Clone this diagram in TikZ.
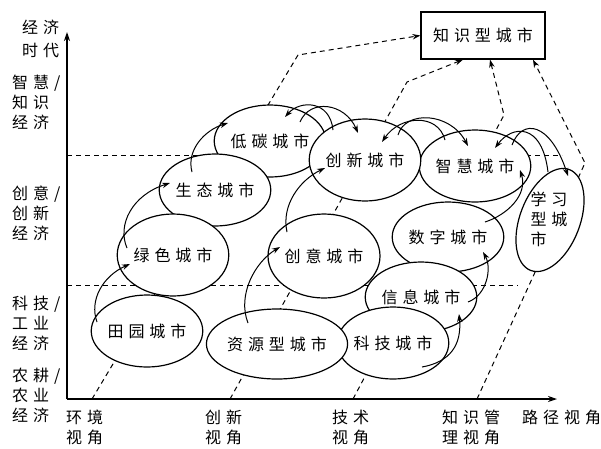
\documentclass[tikz,border=0pt]{standalone}
\usepackage{fontspec}
\newfontfamily\cjk[LetterSpace=31]{Noto Sans CJK SC}
\usetikzlibrary{arrows.meta,shapes.geometric,calc}
\begin{document}
\begin{tikzpicture}[x=1pt,y=-1pt,
  lbl/.style={font=\cjk\fontsize{16}{20}\selectfont, inner sep=0pt, align=left, anchor=north west},
  city/.style={ellipse, draw, fill=white, line width=1.2pt, inner sep=0pt, font=\cjk\fontsize{16}{20}\selectfont},
  evo/.style={line width=1pt, -{Stealth[length=8pt,width=5.5pt]}},
  dpath/.style={line width=1pt, dash pattern=on 5pt off 4pt},
  darrow/.style={dpath, -{Stealth[length=8pt,width=5.5pt]}},
  axis/.style={line width=1.3pt, -{Stealth[length=9pt,width=6pt]}}]

\fill[white] (0,0) rectangle (601,448);
\useasboundingbox (0,0) rectangle (601,448);

% axes
\coordinate (O) at (67,399);
\coordinate (ytop) at (67,32);
\coordinate (xend) at (557,399);
\draw[axis] (O) -- (ytop);
\draw[axis] (O) -- (xend);

% stage borders
\coordinate (u1) at (67,155); \coordinate (u2) at (562,155);
\coordinate (l1) at (67,285); \coordinate (l2) at (518,285);
\draw[dpath] (u1) -- (u2);
\draw[dpath] (l1) -- (l2);

% target box
\node[draw, line width=1.2pt, minimum width=124pt, minimum height=47pt, inner sep=0pt,
      font=\cjk\fontsize{16}{20}\selectfont] (box) at (483,35.5) {知识型城市};

% perspective paths
\coordinate (p1a) at (92,399); \coordinate (p1b) at (298,55);
\coordinate (p2a) at (230,399); \coordinate (p2b) at (407,82);
\coordinate (p3a) at (353,399); \coordinate (p3b) at (504,115);
\coordinate (p4a) at (477,399); \coordinate (p4b) at (585,163);
\draw[darrow] (p1a) -- (p1b) -- (box.west);
\draw[darrow] (p2a) -- (p2b) -- ($(box.south)+(-20,0)$);
\draw[darrow] (p3a) -- (p3b) -- ($(box.south)+(7,0)$);
\draw[darrow] (p4a) -- (p4b) -- ($(box.south)+(50,0)$);

% cities
\node[city, minimum width=110pt, minimum height=72pt] (ditan) at (270,141) {低碳城市};
\node[city, minimum width=110pt, minimum height=72pt] (zhihui) at (475,166) {智慧城市};
\node[city, minimum width=106pt, minimum height=82pt] (chuangxin) at (365,160) {创新城市};
\node[city, minimum width=110pt, minimum height=72pt] (shengtai) at (215,190) {生态城市};
\node[city, minimum width=110pt, minimum height=70pt] (shuzi) at (448,237) {数字城市};
\node[city, minimum width=112pt, minimum height=84pt] (chuangyi) at (324,256) {创意城市};
\node[city, minimum width=110pt, minimum height=82pt] (lvse) at (173,255) {绿色城市};
\node[city, minimum width=108pt, minimum height=70pt] (xinxi) at (421,297) {信息城市};
\node[city, minimum width=60pt, minimum height=108pt, rotate=-21] (xuexi) at (550,220) {};
\node[lbl, anchor=center] (xuexitext) at (549,219) {学习\\型城\\市};
\node[city, minimum width=110pt, minimum height=72pt] (tianyuan) at (147,331) {田园城市};
\node[city, minimum width=110pt, minimum height=72pt] (keji) at (393,343) {科技城市};
\node[city, minimum width=126pt, minimum height=70pt] (ziyuan) at (277,344) {资源型城市};

% axis labels
\node[lbl, font=\cjk\fontsize{16}{23}\selectfont] (era) at (22,20) {经济\\时代};
\node[lbl] (eco4) at (12,75) {智慧/\\知识\\经济};
\node[lbl] (eco3) at (12,186) {创意/\\创新\\经济};
\node[lbl] (eco2) at (12,296) {科技/\\工业\\经济};
\node[lbl] (eco1) at (12,368) {农耕/\\农业\\经济};
\node[lbl] (v1) at (66,410) {环境\\视角};
\node[lbl] (v2) at (205,410) {创新\\视角};
\node[lbl] (v3) at (332,410) {技术\\视角};
\node[lbl] (v4) at (442,410) {知识管\\理视角};
\node[lbl] (v5) at (522,410) {路径视角};

% evolution arrows
\coordinate (a1) at (97,322);  \coordinate (a2) at (130,264);
\coordinate (b1) at (127,248); \coordinate (b2) at (170,183);
\coordinate (c1) at (192,172); \coordinate (c2) at (228,123);
\coordinate (d1) at (248,323); \coordinate (d2) at (280,247);
\coordinate (e1) at (287,232); \coordinate (e2) at (325,168);
\coordinate (f1) at (422,367); \coordinate (f2) at (459,314);
\coordinate (g1) at (468,302); \coordinate (g2) at (483,252);
\coordinate (h1) at (485,222); \coordinate (h2) at (520,170);
\draw[evo] (a1) .. controls (89,300) and (103,276) .. (a2);
\draw[evo] (b1) .. controls (117,225) and (132,195) .. (b2);
\draw[evo] (c1) .. controls (186,150) and (205,130) .. (c2);
\draw[evo] (d1) .. controls (237,295) and (255,262) .. (d2);
\draw[evo] (e1) .. controls (281,205) and (300,180) .. (e2);
\draw[evo] (f1) .. controls (450,362) and (462,345) .. (f2);
\draw[evo] (g1) .. controls (487,295) and (492,268) .. (g2);
\draw[evo] (h1) .. controls (507,215) and (528,195) .. (h2);

\coordinate (i1) at (300,122); \coordinate (i2) at (358,133);
\coordinate (i3) at (333,130); \coordinate (i4) at (285,117);
\draw[evo] (i1) .. controls (310,98) and (345,103) .. (i2);
\draw[evo] (i3) .. controls (330,100) and (300,100) .. (i4);
\coordinate (j1) at (398,135); \coordinate (j2) at (468,146);
\coordinate (j3) at (445,140); \coordinate (j4) at (382,142);
\draw[evo] (j1) .. controls (405,110) and (450,112) .. (j2);
\draw[evo] (j3) .. controls (438,113) and (400,115) .. (j4);
\coordinate (k1) at (512,145); \coordinate (k2) at (568,176);
\coordinate (k3) at (548,172); \coordinate (k4) at (495,148);
\draw[evo] (k1) .. controls (522,118) and (550,122) .. (k2);
\draw[evo] (k3) .. controls (542,122) and (512,125) .. (k4);
\end{tikzpicture}
\end{document}
